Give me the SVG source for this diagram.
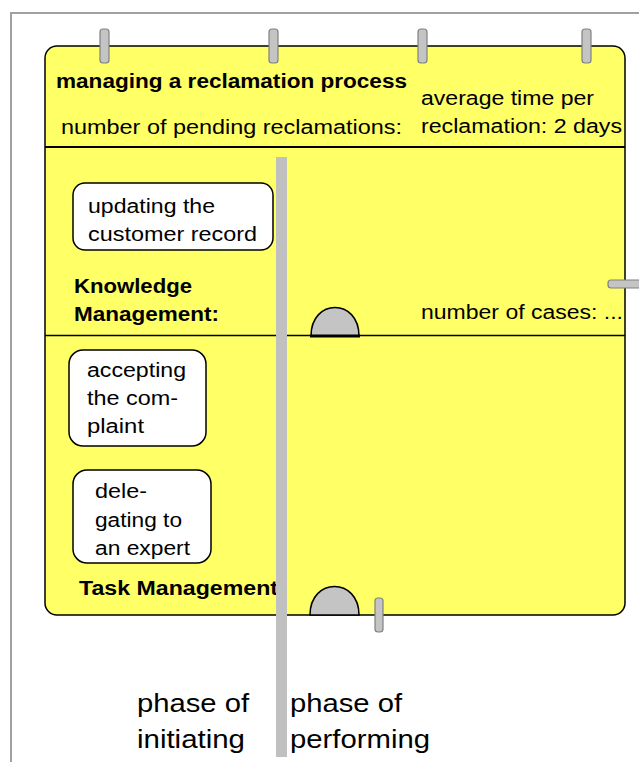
<svg xmlns="http://www.w3.org/2000/svg" width="639" height="762" viewBox="0 0 639 762">
<style>
.t{font-family:"Liberation Sans",Arial,sans-serif;font-size:20px;fill:#000}
.b{font-weight:bold}
.big{font-size:25px}
.peg{fill:#c4c4c4;stroke:#808080;stroke-width:1.2}
.node{fill:#fff;stroke:#000;stroke-width:1.5}
.semi{fill:#c4c4c4;stroke:#000;stroke-width:1.5}
</style>
<rect width="639" height="762" fill="#fff"/>
<path d="M11,762 V13 H639" fill="none" stroke="#a0a0a0" stroke-width="2"/>
<g id="process">
<rect x="45" y="46" width="580" height="569" rx="12" fill="#ffff66" stroke="#000" stroke-width="1.5"/>
<line x1="45" y1="147" x2="625" y2="147" stroke="#000" stroke-width="2"/>
<line x1="45" y1="335.5" x2="625" y2="335.5" stroke="#000" stroke-width="1.5"/>
<rect class="peg" x="100" y="29" width="9" height="34" rx="3"/>
<rect class="peg" x="269" y="29" width="9" height="34" rx="3"/>
<rect class="peg" x="418" y="29" width="9" height="34" rx="3"/>
<rect class="peg" x="582" y="29" width="9" height="34" rx="3"/>
<rect class="peg" x="608" y="280" width="36" height="8" rx="3"/>
<rect class="peg" x="375" y="598" width="8" height="34" rx="3"/>
<text class="t b" x="56" y="88" textLength="351" lengthAdjust="spacingAndGlyphs">managing a reclamation process</text>
<text class="t" x="61" y="134" textLength="341" lengthAdjust="spacingAndGlyphs">number of pending reclamations:</text>
<text class="t" x="421" y="105" textLength="173" lengthAdjust="spacingAndGlyphs">average time per</text>
<text class="t" x="421" y="133" textLength="201" lengthAdjust="spacingAndGlyphs">reclamation: 2 days</text>
</g>
<g id="knowledge-management">
<text class="t b" x="74" y="293" textLength="118" lengthAdjust="spacingAndGlyphs">Knowledge</text>
<text class="t b" x="74" y="321" textLength="145" lengthAdjust="spacingAndGlyphs">Management:</text>
<text class="t" x="421" y="319" textLength="202" lengthAdjust="spacingAndGlyphs">number of cases: ...</text>
<path class="semi" d="M311,336 C311,298 359,298 359,336 Z"/>
<line x1="310" y1="336" x2="360" y2="336" stroke="#000" stroke-width="3"/>
</g>
<g id="task-management">
<text class="t b" x="79" y="595" textLength="199" lengthAdjust="spacingAndGlyphs">Task Management</text>
<path class="semi" d="M310,615 C310,577 359,577 359,615 Z"/>
</g>
<g id="node-updating">
<rect class="node" x="73" y="183" width="200" height="67" rx="12"/>
<text class="t" x="88" y="213" textLength="127" lengthAdjust="spacingAndGlyphs">updating the</text>
<text class="t" x="88" y="241" textLength="169" lengthAdjust="spacingAndGlyphs">customer record</text>
</g>
<g id="node-accepting">
<rect class="node" x="69" y="350" width="137" height="96" rx="14"/>
<text class="t" x="87" y="377" textLength="99" lengthAdjust="spacingAndGlyphs">accepting</text>
<text class="t" x="87" y="405" textLength="91" lengthAdjust="spacingAndGlyphs">the com-</text>
<text class="t" x="87" y="433" textLength="57" lengthAdjust="spacingAndGlyphs">plaint</text>
</g>
<g id="node-delegating">
<rect class="node" x="73" y="470" width="138" height="93" rx="14"/>
<text class="t" x="95" y="498" textLength="52" lengthAdjust="spacingAndGlyphs">dele-</text>
<text class="t" x="95" y="527" textLength="87" lengthAdjust="spacingAndGlyphs">gating to</text>
<text class="t" x="95" y="555" textLength="95" lengthAdjust="spacingAndGlyphs">an expert</text>
</g>
<g id="connectors">
<rect x="276" y="157" width="11" height="600" fill="#c0c0c0"/>
</g>
<g id="phase-labels">
<text class="t big" x="137" y="712" textLength="112" lengthAdjust="spacingAndGlyphs">phase of</text>
<text class="t big" x="137" y="748" textLength="108" lengthAdjust="spacingAndGlyphs">initiating</text>
<text class="t big" x="290" y="712" textLength="112" lengthAdjust="spacingAndGlyphs">phase of</text>
<text class="t big" x="290" y="748" textLength="140" lengthAdjust="spacingAndGlyphs">performing</text>
</g>
</svg>
